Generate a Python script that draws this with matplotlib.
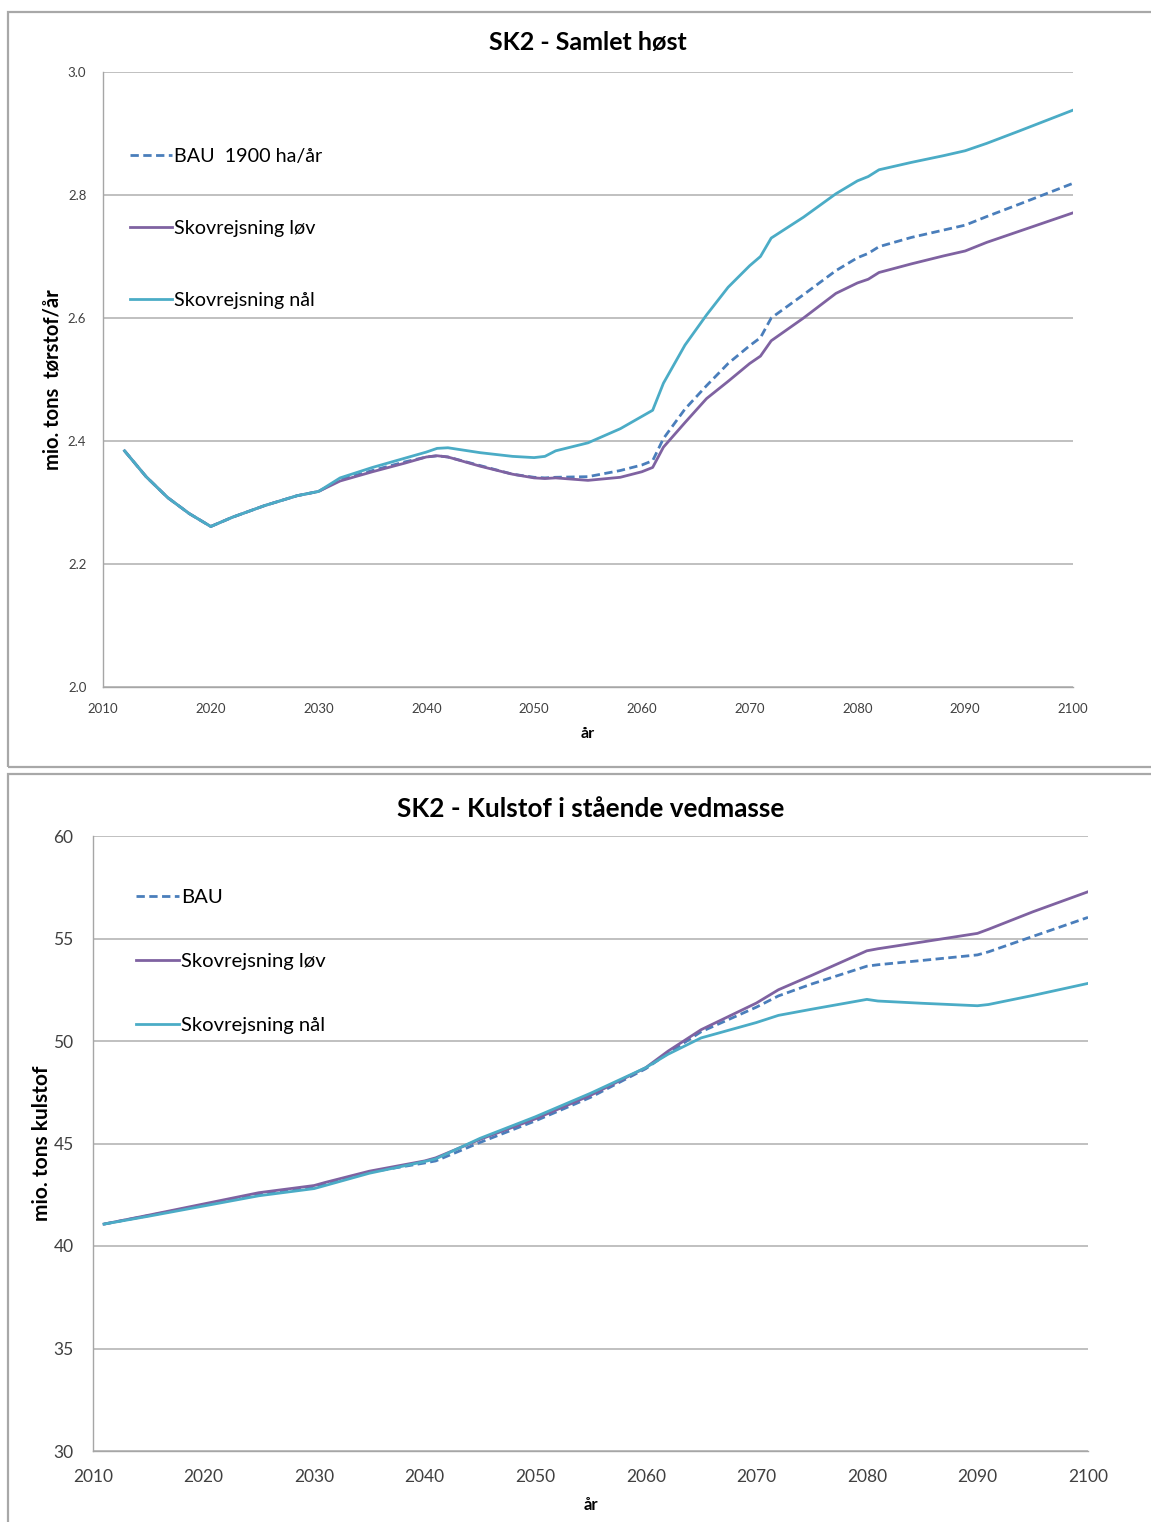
import numpy as np
import matplotlib.pyplot as plt
from matplotlib.patches import Rectangle

plt.rcParams['font.family'] = ['Lato', 'DejaVu Sans']

# --- data: SK2 - Samlet høst (mio. tons tørstof/år)
years_h = [2012, 2014, 2016, 2018, 2020, 2022, 2025, 2028, 2030, 2032, 2035, 2038, 2040,
           2041, 2042, 2045, 2048, 2050, 2051, 2052, 2055, 2058, 2060, 2061, 2062, 2064,
           2066, 2068, 2070, 2071, 2072, 2075, 2078, 2080, 2081, 2082, 2085, 2088, 2090,
           2092, 2095, 2100]
bau_h = [2.384, 2.342, 2.308, 2.282, 2.261, 2.276, 2.295, 2.311, 2.318, 2.337, 2.352, 2.366, 2.374,
         2.376, 2.374, 2.360, 2.346, 2.341, 2.340, 2.341, 2.342, 2.352, 2.361, 2.368, 2.404, 2.452,
         2.490, 2.526, 2.555, 2.568, 2.600, 2.638, 2.677, 2.698, 2.705, 2.716, 2.731, 2.743, 2.751,
         2.765, 2.785, 2.819]
lov_h = [2.384, 2.342, 2.308, 2.282, 2.261, 2.276, 2.295, 2.311, 2.318, 2.335, 2.350, 2.364, 2.374,
         2.376, 2.374, 2.359, 2.346, 2.340, 2.339, 2.340, 2.336, 2.341, 2.350, 2.357, 2.390, 2.430,
         2.469, 2.497, 2.526, 2.538, 2.563, 2.600, 2.640, 2.657, 2.663, 2.674, 2.688, 2.701, 2.709,
         2.723, 2.741, 2.771]
nal_h = [2.384, 2.342, 2.308, 2.282, 2.261, 2.276, 2.295, 2.311, 2.318, 2.340, 2.357, 2.372, 2.382,
         2.388, 2.389, 2.381, 2.375, 2.373, 2.375, 2.384, 2.397, 2.420, 2.440, 2.450, 2.494, 2.556,
         2.605, 2.650, 2.685, 2.700, 2.730, 2.764, 2.802, 2.823, 2.830, 2.841, 2.853, 2.864, 2.872,
         2.884, 2.904, 2.938]

# --- data: SK2 - Kulstof i stående vedmasse (mio. tons kulstof)
years_k = [2011, 2015, 2020, 2025, 2030, 2031, 2035, 2040, 2041, 2045, 2050, 2055, 2060, 2062,
           2065, 2070, 2072, 2075, 2080, 2081, 2085, 2090, 2091, 2095, 2100]
bau_k = [41.07, 41.48, 42.00, 42.52, 42.88, 43.00, 43.60, 44.05, 44.15, 45.05, 46.10, 47.25, 48.65,
         49.40, 50.45, 51.65, 52.20, 52.78, 53.65, 53.72, 53.93, 54.20, 54.35, 55.10, 56.03]
lov_k = [41.07, 41.50, 42.05, 42.60, 42.95, 43.10, 43.65, 44.15, 44.30, 45.20, 46.20, 47.35, 48.70,
         49.50, 50.55, 51.85, 52.50, 53.20, 54.40, 54.50, 54.83, 55.25, 55.45, 56.30, 57.28]
nal_k = [41.07, 41.45, 41.95, 42.45, 42.80, 42.95, 43.55, 44.12, 44.25, 45.25, 46.30, 47.45, 48.70,
         49.35, 50.15, 50.90, 51.25, 51.55, 52.03, 51.95, 51.84, 51.72, 51.78, 52.22, 52.81]

c_bau = '#4A7EBB'
c_lov = '#7F62A1'
c_nal = '#4BACC6'
c_grid = '#B5B5B5'
c_text = '#404040'

fig = plt.figure(figsize=(11.51, 15.22), dpi=100)

# chart frames
W, H = 1151, 1522
for (x0, y0, x1, y1) in [(8, 12, 1170, 767), (8, 774, 1170, 1540)]:
    fig.patches.append(Rectangle((x0 / W, 1 - y1 / H), (x1 - x0) / W, (y1 - y0) / H,
                                 transform=fig.transFigure, fill=False,
                                 edgecolor='#A8A8A8', lw=1.6))


def style_axis(ax, tick_size):
    for s in ['top', 'right']:
        ax.spines[s].set_visible(False)
    for s in ['left', 'bottom']:
        ax.spines[s].set_color('#A6A6A6')
        ax.spines[s].set_linewidth(1.0)
    ax.grid(axis='y', color=c_grid, lw=1.2)
    ax.set_axisbelow(True)
    ax.tick_params(length=0, labelsize=tick_size, colors=c_text)
    ax.set_xlim(2010, 2100)
    ax.set_xticks(range(2010, 2101, 10))


# top panel
ax1 = fig.add_axes([103 / W, 1 - 687 / H, 970 / W, 615 / H])
style_axis(ax1, 9.5)
ax1.set_ylim(2.0, 3.0)
ax1.set_yticks(np.arange(2.0, 3.01, 0.2))
ax1.set_yticklabels([f'{v:.1f}' for v in np.arange(2.0, 3.01, 0.2)])
ax1.tick_params(axis='x', pad=11.5)
ax1.tick_params(axis='y', pad=12)
ax1.plot(years_h, bau_h, color=c_bau, lw=2.0, dashes=(3, 1.6), label='BAU  1900 ha/år')
ax1.plot(years_h, lov_h, color=c_lov, lw=2.0, label='Skovrejsning løv')
ax1.plot(years_h, nal_h, color=c_nal, lw=2.0, label='Skovrejsning nål')
ax1.set_title('SK2 - Samlet høst', fontsize=18, fontweight='bold', pad=16)
ax1.set_xlabel('år', fontsize=11.5, fontweight='bold', labelpad=9)
ax1.set_ylabel('mio. tons  tørstof/år', fontsize=14.5, fontweight='bold', labelpad=3.5)
ax1.legend(loc='upper left', bbox_to_anchor=(0.01, 0.905), frameon=False, fontsize=14.2,
           handlelength=2.1, handletextpad=0.12, labelspacing=2.78)

# bottom panel
ax2 = fig.add_axes([93 / W, 1 - 1451 / H, 995 / W, 615 / H])
style_axis(ax2, 12.5)
ax2.set_ylim(30, 60)
ax2.set_yticks(range(30, 61, 5))
ax2.tick_params(axis='x', pad=13)
ax2.tick_params(axis='y', pad=14)
ax2.plot(years_k, bau_k, color=c_bau, lw=2.0, dashes=(3, 1.6), label='BAU')
ax2.plot(years_k, lov_k, color=c_lov, lw=2.0, label='Skovrejsning løv')
ax2.plot(years_k, nal_k, color=c_nal, lw=2.0, label='Skovrejsning nål')
ax2.set_title('SK2 - Kulstof i stående vedmasse', fontsize=18.8, fontweight='bold', pad=14)
ax2.set_xlabel('år', fontsize=12, fontweight='bold', labelpad=8.5)
ax2.set_ylabel('mio. tons kulstof', fontsize=15, fontweight='bold', labelpad=1)
ax2.legend(loc='upper left', bbox_to_anchor=(0.025, 0.944), frameon=False, fontsize=14.6,
           handlelength=2.1, handletextpad=0.12, labelspacing=2.32)

fig.savefig('out.png', dpi=100)
